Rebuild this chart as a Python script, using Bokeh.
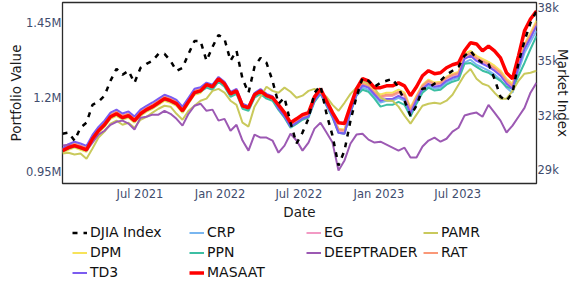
import pandas as pd
from bokeh.plotting import figure
from bokeh.layouts import column
from bokeh.models import (Range1d, LinearAxis, FixedTicker, DatetimeTickFormatter,
                          Legend, LegendItem)
from bokeh.embed import file_html
from bokeh.resources import INLINE

# ---------------- data ----------------
START, END = "2021-01-04", "2023-12-29"

DJIA = [31010, 31070, 30630, 31340, 31620, 32600, 32770, 33100, 33920, 34580,
        34250, 34470, 33810, 34630, 34850, 35020, 35400, 35400, 35020, 34470,
        34630, 35400, 36110, 36110, 35020, 35780, 36440, 36220, 35020, 35570,
        34030, 33260, 34690, 35180, 34910, 33920, 32660, 32990, 31620, 30470,
        31070, 31840, 33260, 33650, 32110, 30900, 29260, 30080, 31730, 33040,
        34080, 33920, 33590, 33810, 33920, 34030, 33540, 32820, 32000, 32550,
        33480, 33540, 33760, 33920, 34250, 34470, 34690, 35290, 35570, 35130,
        34910, 34850, 34030, 33040, 32820, 33260, 34910, 36110, 37100, 37760]

MASAAT = [1.022, 1.032, 1.039, 1.032, 1.025, 1.062, 1.089, 1.109, 1.136, 1.146,
          1.133, 1.140, 1.123, 1.146, 1.160, 1.170, 1.183, 1.197, 1.190, 1.180,
          1.156, 1.187, 1.217, 1.223, 1.244, 1.237, 1.264, 1.247, 1.213, 1.223,
          1.173, 1.166, 1.210, 1.223, 1.207, 1.200, 1.176, 1.150, 1.116, 1.129,
          1.143, 1.150, 1.203, 1.230, 1.190, 1.150, 1.116, 1.113, 1.173, 1.230,
          1.264, 1.257, 1.234, 1.234, 1.240, 1.240, 1.250, 1.240, 1.207, 1.237,
          1.274, 1.291, 1.281, 1.284, 1.301, 1.311, 1.317, 1.358, 1.385, 1.381,
          1.358, 1.374, 1.358, 1.334, 1.284, 1.264, 1.341, 1.425, 1.465, 1.492]

TD3 = [1.030, 1.044, 1.052, 1.046, 1.038, 1.075, 1.102, 1.123, 1.150, 1.160,
       1.147, 1.154, 1.137, 1.160, 1.173, 1.184, 1.197, 1.210, 1.203, 1.193,
       1.170, 1.200, 1.230, 1.235, 1.251, 1.244, 1.270, 1.254, 1.220, 1.230,
       1.180, 1.172, 1.216, 1.229, 1.213, 1.205, 1.163, 1.137, 1.103, 1.116,
       1.130, 1.137, 1.190, 1.217, 1.177, 1.137, 1.082, 1.079, 1.153, 1.210,
       1.241, 1.234, 1.211, 1.190, 1.196, 1.196, 1.206, 1.196, 1.147, 1.193,
       1.230, 1.247, 1.237, 1.240, 1.257, 1.267, 1.273, 1.331, 1.341, 1.324,
       1.314, 1.304, 1.291, 1.274, 1.247, 1.230, 1.304, 1.364, 1.401, 1.442]

RAT = [1.027, 1.039, 1.046, 1.039, 1.032, 1.069, 1.096, 1.116, 1.143, 1.153,
       1.140, 1.147, 1.130, 1.153, 1.167, 1.177, 1.190, 1.204, 1.197, 1.187,
       1.163, 1.194, 1.224, 1.230, 1.247, 1.240, 1.267, 1.250, 1.216, 1.226,
       1.176, 1.169, 1.213, 1.226, 1.210, 1.203, 1.169, 1.143, 1.109, 1.122,
       1.136, 1.143, 1.196, 1.223, 1.183, 1.143, 1.093, 1.090, 1.160, 1.217,
       1.247, 1.240, 1.217, 1.204, 1.210, 1.210, 1.220, 1.210, 1.160, 1.203,
       1.240, 1.257, 1.247, 1.250, 1.267, 1.277, 1.283, 1.341, 1.351, 1.334,
       1.324, 1.314, 1.301, 1.284, 1.257, 1.240, 1.314, 1.374, 1.411, 1.452]

EG = [1.025, 1.037, 1.044, 1.037, 1.030, 1.067, 1.094, 1.114, 1.141, 1.151,
      1.138, 1.145, 1.128, 1.151, 1.165, 1.175, 1.188, 1.202, 1.195, 1.185,
      1.161, 1.192, 1.222, 1.228, 1.244, 1.237, 1.264, 1.247, 1.213, 1.223,
      1.173, 1.166, 1.210, 1.223, 1.207, 1.200, 1.166, 1.140, 1.106, 1.119,
      1.133, 1.140, 1.193, 1.220, 1.180, 1.140, 1.089, 1.086, 1.156, 1.213,
      1.244, 1.237, 1.214, 1.200, 1.206, 1.206, 1.216, 1.206, 1.157, 1.200,
      1.237, 1.254, 1.244, 1.247, 1.264, 1.274, 1.280, 1.336, 1.346, 1.329,
      1.319, 1.309, 1.296, 1.279, 1.252, 1.235, 1.309, 1.369, 1.406, 1.447]

CRP = [1.024, 1.035, 1.042, 1.035, 1.028, 1.065, 1.092, 1.112, 1.139, 1.149,
       1.136, 1.143, 1.126, 1.149, 1.163, 1.173, 1.186, 1.200, 1.193, 1.183,
       1.159, 1.190, 1.220, 1.226, 1.241, 1.234, 1.261, 1.244, 1.210, 1.220,
       1.170, 1.163, 1.207, 1.220, 1.204, 1.197, 1.163, 1.137, 1.103, 1.116,
       1.130, 1.137, 1.190, 1.217, 1.177, 1.137, 1.086, 1.083, 1.153, 1.210,
       1.234, 1.227, 1.204, 1.184, 1.190, 1.190, 1.200, 1.190, 1.143, 1.187,
       1.224, 1.241, 1.231, 1.234, 1.251, 1.261, 1.267, 1.318, 1.328, 1.311,
       1.301, 1.291, 1.278, 1.261, 1.234, 1.217, 1.291, 1.351, 1.388, 1.425]

PPN = [1.019, 1.029, 1.036, 1.029, 1.022, 1.059, 1.086, 1.106, 1.133, 1.143,
       1.130, 1.137, 1.120, 1.143, 1.157, 1.167, 1.180, 1.194, 1.187, 1.177,
       1.153, 1.184, 1.214, 1.220, 1.234, 1.227, 1.254, 1.237, 1.203, 1.213,
       1.163, 1.156, 1.200, 1.213, 1.197, 1.190, 1.159, 1.133, 1.099, 1.112,
       1.126, 1.133, 1.186, 1.213, 1.173, 1.133, 1.082, 1.079, 1.150, 1.207,
       1.227, 1.220, 1.197, 1.170, 1.176, 1.176, 1.186, 1.176, 1.137, 1.180,
       1.217, 1.234, 1.224, 1.227, 1.244, 1.254, 1.260, 1.314, 1.317, 1.304,
       1.291, 1.284, 1.270, 1.257, 1.237, 1.230, 1.274, 1.317, 1.364, 1.408]

DPM = [1.015, 1.025, 1.032, 1.025, 1.018, 1.055, 1.082, 1.102, 1.129, 1.139,
       1.126, 1.133, 1.116, 1.139, 1.153, 1.163, 1.176, 1.190, 1.183, 1.173,
       1.149, 1.180, 1.210, 1.216, 1.241, 1.234, 1.261, 1.244, 1.210, 1.220,
       1.170, 1.163, 1.207, 1.220, 1.204, 1.197, 1.169, 1.143, 1.109, 1.122,
       1.136, 1.143, 1.196, 1.223, 1.183, 1.143, 1.096, 1.093, 1.163, 1.220,
       1.251, 1.244, 1.221, 1.211, 1.217, 1.217, 1.227, 1.217, 1.167, 1.207,
       1.244, 1.261, 1.251, 1.254, 1.271, 1.281, 1.287, 1.348, 1.358, 1.341,
       1.331, 1.321, 1.308, 1.291, 1.264, 1.247, 1.321, 1.381, 1.418, 1.459]

PAMR = [1.012, 1.015, 1.009, 1.012, 0.995, 1.029, 1.066, 1.086, 1.113, 1.123,
        1.109, 1.116, 1.099, 1.126, 1.136, 1.150, 1.163, 1.173, 1.170, 1.146,
        1.126, 1.156, 1.173, 1.190, 1.197, 1.223, 1.230, 1.217, 1.190, 1.176,
        1.116, 1.103, 1.170, 1.203, 1.237, 1.223, 1.217, 1.234, 1.220, 1.200,
        1.207, 1.223, 1.230, 1.217, 1.203, 1.176, 1.156, 1.183, 1.213, 1.234,
        1.257, 1.247, 1.234, 1.200, 1.190, 1.190, 1.170, 1.140, 1.113, 1.143,
        1.173, 1.180, 1.183, 1.180, 1.190, 1.210, 1.244, 1.277, 1.297, 1.264,
        1.247, 1.240, 1.217, 1.197, 1.197, 1.223, 1.257, 1.281, 1.284, 1.291]

DEEPTRADER = [1.039, 1.042, 1.036, 1.036, 1.022, 1.049, 1.076, 1.089, 1.109, 1.119,
              1.123, 1.113, 1.093, 1.133, 1.136, 1.143, 1.143, 1.156, 1.146, 1.129,
              1.106, 1.146, 1.173, 1.180, 1.156, 1.160, 1.123, 1.129, 1.089, 1.109,
              1.056, 1.022, 1.076, 1.066, 1.066, 1.056, 1.015, 1.039, 1.079, 1.056,
              1.022, 1.049, 1.096, 1.116, 1.083, 1.049, 0.955, 0.989, 1.046, 1.076,
              1.079, 1.059, 1.049, 1.052, 1.042, 1.032, 1.022, 1.032, 0.999, 0.999,
              1.036, 1.056, 1.066, 1.052, 1.062, 1.086, 1.099, 1.140, 1.146, 1.150,
              1.136, 1.176, 1.150, 1.123, 1.083, 1.106, 1.136, 1.166, 1.217, 1.250]

X_TICKS = ["2021-07-01", "2022-01-01", "2022-07-01", "2023-01-01", "2023-07-01"]
LEFT_TICKS = [0.95, 1.2, 1.45]
LEFT_TICK_LABELS = ["0.95M", "1.2M", "1.45M"]
RIGHT_TICKS = [29000, 32000, 35000, 38000]
RIGHT_TICK_LABELS = ["29k", "32k", "35k", "38k"]
LEFT_RANGE = (0.9114, 1.5205)
RIGHT_RANGE = (28271, 38225)
LEGEND_ORDER = ["DJIA Index", "CRP", "EG", "PAMR", "DPM", "PPN",
                "DEEPTRADER", "RAT", "TD3", "MASAAT"]

# ---------------- styles ----------------
FONT = "DejaVu Sans"
TICK_COLOR = "#3f4d6e"
TITLE_COLOR = "#1a1a1a"

STYLES = {
    "DPM": dict(line_color="#f7e35a", line_width=2),
    "CRP": dict(line_color="#79b6f0", line_width=2),
    "EG": dict(line_color="#f29ac4", line_width=2),
    "RAT": dict(line_color="#fa9878", line_width=2),
    "PPN": dict(line_color="#3cbfa3", line_width=2),
    "TD3": dict(line_color="#7b5cf0", line_width=2),
    "PAMR": dict(line_color="#c9c95c", line_width=2),
    "DEEPTRADER": dict(line_color="#9c59b3", line_width=2),
    "MASAAT": dict(line_color="#ff0000", line_width=3.5),
    "DJIA Index": dict(line_color="black", line_width=2.5, line_dash="5 6"),
}
VALUES = {"DPM": DPM, "CRP": CRP, "EG": EG, "RAT": RAT, "PPN": PPN, "TD3": TD3,
          "PAMR": PAMR, "DEEPTRADER": DEEPTRADER, "MASAAT": MASAAT, "DJIA Index": DJIA}

dates = pd.date_range(START, END, periods=len(MASAAT))

# ---------------- main chart ----------------
p = figure(width=573, height=222, x_axis_type="datetime",
           output_backend="svg", toolbar_location=None,
           x_range=Range1d(pd.Timestamp(START), pd.Timestamp(END)),
           y_range=Range1d(*LEFT_RANGE),
           min_border_left=62, min_border_right=37,
           min_border_top=2, min_border_bottom=39)
p.extra_y_ranges = {"djia": Range1d(*RIGHT_RANGE)}
p.xgrid.grid_line_color = None
p.ygrid.grid_line_color = None
p.outline_line_color = "#2b2b2b"
p.outline_line_width = 1.3
p.background_fill_color = "white"
p.border_fill_color = "white"

for name, vals in VALUES.items():
    extra = {"y_range_name": "djia"} if name == "DJIA Index" else {}
    p.line(dates, vals, **STYLES[name], **extra)


def style_axis(ax):
    ax.axis_line_color = None
    ax.major_tick_line_color = None
    ax.minor_tick_line_color = None
    ax.major_tick_out = 0
    ax.major_tick_in = 0
    ax.minor_tick_out = 0
    ax.minor_tick_in = 0
    ax.major_label_text_font = FONT
    ax.major_label_text_font_size = "11.5px"
    ax.major_label_text_color = TICK_COLOR
    ax.axis_label_text_font = FONT
    ax.axis_label_text_font_size = "13.5px"
    ax.axis_label_text_font_style = "normal"
    ax.axis_label_text_color = TITLE_COLOR


ly = p.yaxis[0]
style_axis(ly)
ly.ticker = FixedTicker(ticks=LEFT_TICKS)
ly.major_label_overrides = dict(zip(LEFT_TICKS, LEFT_TICK_LABELS))
ly.axis_label = "Portfolio Value"
ly.major_label_standoff = 1
ly.axis_label_standoff = -1

bx = p.xaxis[0]
style_axis(bx)
bx.ticker = FixedTicker(ticks=[pd.Timestamp(t).value / 1e6 for t in X_TICKS])
bx.formatter = DatetimeTickFormatter(days="%b %Y", months="%b %Y", years="%b %Y")
bx.axis_label = "Date"
bx.major_label_standoff = 3
bx.axis_label_standoff = 0

ry = LinearAxis(y_range_name="djia", ticker=FixedTicker(ticks=RIGHT_TICKS),
                axis_label="Market Index")
style_axis(ry)
ry.major_label_overrides = dict(zip(RIGHT_TICKS, RIGHT_TICK_LABELS))
ry.major_label_standoff = 1
ry.axis_label_standoff = -7
p.add_layout(ry, "right")

# ---------------- legend strip ----------------
# the same series are drawn here, but outside this strip's (0..1) view,
# so only the legend with its line samples shows
pl = figure(width=573, height=61, output_backend="svg", toolbar_location=None,
            x_axis_location=None, y_axis_location=None,
            x_range=Range1d(0, 1), y_range=Range1d(0, 1),
            min_border_left=62, min_border_right=37, min_border_top=0, min_border_bottom=0)
pl.outline_line_color = None
pl.xgrid.grid_line_color = None
pl.ygrid.grid_line_color = None
proxies = {name: pl.line(dates, VALUES[name], **STYLES[name]) for name in LEGEND_ORDER}
legend = Legend(items=[LegendItem(label=n, renderers=[proxies[n]]) for n in LEGEND_ORDER],
                orientation="horizontal", ncols=4, location=(10, 3),
                glyph_width=15, glyph_height=15, label_height=15, label_width=95,
                label_standoff=3, spacing=4, padding=1, margin=0,
                border_line_color=None, background_fill_alpha=0,
                label_text_font=FONT, label_text_font_size="14px",
                label_text_color="#111111")
pl.add_layout(legend)

page = column(p, pl, spacing=0)
open("out.html", "w").write(file_html(page, INLINE))
